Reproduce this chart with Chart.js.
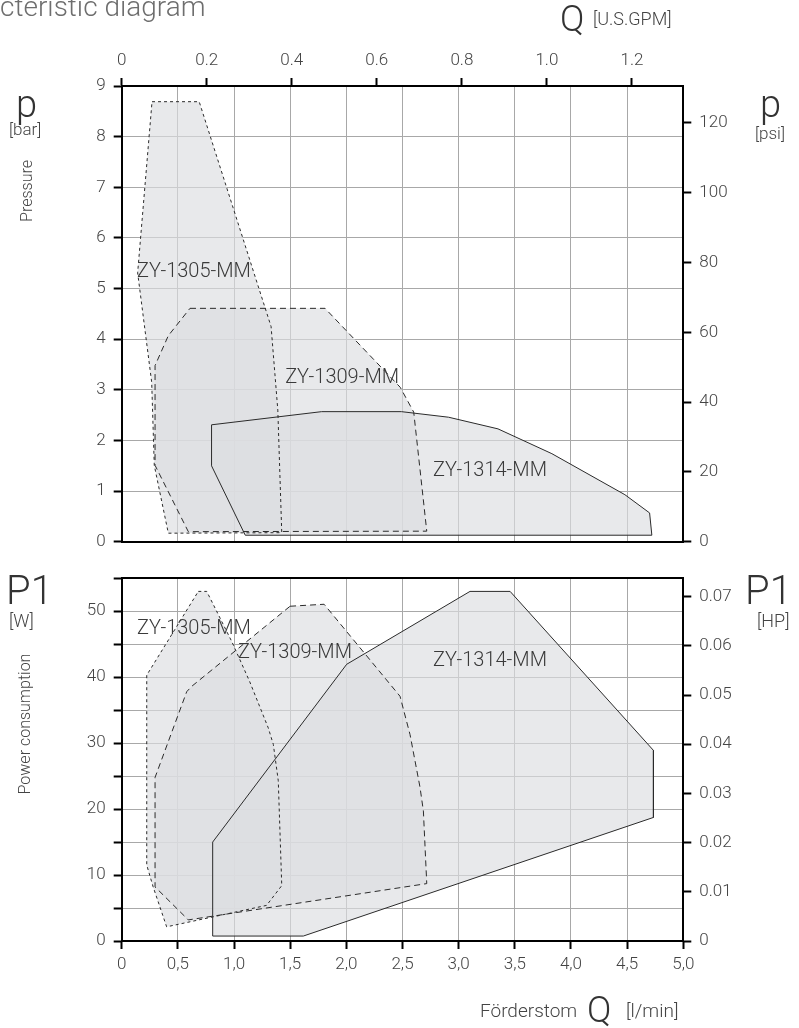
<!DOCTYPE html>
<html>
<head>
<meta charset="utf-8">
<script src="https://cdn.jsdelivr.net/npm/chart.js@4.4.1/dist/chart.umd.min.js"></script>
<style>
  html, body { margin: 0; padding: 0; background: #fff; }
  body { width: 799px; height: 1028px; position: relative; overflow: hidden;
         font-family: Roboto, "Open Sans", sans-serif; font-weight: 300; color: #444; }
  canvas { position: absolute; left: 0; }
  #pressure { top: 0; }
  #power { top: 560px; }
  .lbl { position: absolute; white-space: nowrap; line-height: 0; }
  .rot { position: absolute; white-space: nowrap; line-height: 1; transform: translate(-50%, -50%) rotate(-90deg); }
</style>
</head>
<body>
<canvas id="pressure" width="799" height="560"></canvas>
<canvas id="power" width="799" height="468"></canvas>
<script>
// flow Q in l/min, pressure p in bar, power P1 in W
const models = ['ZY-1305-MM', 'ZY-1309-MM', 'ZY-1314-MM'];

const q1305p = [0.27, 0.69, 1.33, 1.39, 1.425, 0.415, 0.29, 0.267, 0.142, 0.27];
const p1305 = [8.69, 8.69, 4.25, 2.6, 0.18, 0.17, 1.51, 3.15, 5.31, 8.69];
const q1309p = [0.608, 1.81, 2.48, 2.6, 2.716, 0.593, 0.297, 0.297, 0.415, 0.608];
const p1309 = [4.61, 4.61, 3.05, 2.56, 0.21, 0.2, 1.51, 3.48, 4.07, 4.61];
const q1314p = [0.80, 1.78, 2.49, 2.91, 3.35, 3.83, 4.48, 4.70, 4.72, 1.10, 0.80, 0.80];
const p1314 = [2.31, 2.57, 2.57, 2.46, 2.23, 1.74, 0.93, 0.57, 0.13, 0.13, 1.50, 2.31];

const q1305w = [0.682, 0.757, 0.98, 1.14, 1.305, 1.35, 1.394, 1.425, 1.29, 0.40, 0.28, 0.223, 0.223, 0.682];
const w1305 = [53.0, 53.0, 45.4, 39.3, 32.3, 29.8, 24.3, 8.4, 5.4, 2.15, 8.2, 11.5, 40.3, 53.0];
const q1309w = [1.499, 1.802, 2.478, 2.567, 2.656, 2.686, 2.716, 0.593, 0.297, 0.297, 0.579, 0.623, 1.499];
const w1309 = [50.75, 51.05, 37.1, 31.3, 23.3, 19.7, 8.7, 3.2, 8.2, 24.8, 37.8, 38.6, 50.75];
const q1314w = [0.81, 0.81, 2.003, 3.101, 3.458, 4.734, 4.734, 1.617, 0.81];
const w1314 = [0.75, 15.0, 41.95, 53.0, 53.0, 28.9, 18.73, 0.75, 0.75];

// where the model names sit (left edge, vertical middle)
const labelQp = [0.136, 1.455, 2.772];
const labelP = [5.32, 3.23, 1.40];
const labelQw = [0.136, 1.036, 2.772];
const labelW = [47.3, 43.6, 42.4];

const GPM = 3.78541; // l/min per U.S. gallon/min
const PSI = 14.5038; // psi per bar
const HP = 745.7;    // W per hp

const dashes = [[3, 3], [6, 4], []];
const fillColor = 'rgba(220,221,225,0.65)';
const gridColor = '#a8a8a8';
const tickFont = { family: 'Roboto', size: 17, weight: 300 };
const tickColor = '#444';

function pts(q, v) {
  return q.map((x, i) => ({ x: x, y: v[i] }));
}

function datasets(series) {
  return series.map((s, i) => ({
    label: models[i],
    data: pts(s[0], s[1]),
    showLine: true,
    fill: 'shape',
    backgroundColor: fillColor,
    borderColor: '#2a2a2a',
    borderWidth: 1,
    borderDash: dashes[i],
    pointRadius: 0,
    pointHoverRadius: 0,
    tension: 0
  }));
}

const modelLabels = {
  id: 'modelLabels',
  afterDatasetsDraw(chart, args, opts) {
    const { ctx, scales } = chart;
    ctx.save();
    ctx.font = '300 20px Roboto';
    ctx.fillStyle = '#3a3a3a';
    ctx.textBaseline = 'middle';
    ctx.textAlign = 'left';
    models.forEach((m, i) => {
      ctx.fillText(m, scales.x.getPixelForValue(opts.q[i]), scales.y.getPixelForValue(opts.v[i]));
    });
    ctx.restore();
  }
};

const axisBorder = { color: '#000', width: 2 };

function sideAxis(position, max, step, fmt, width) {
  return {
    type: 'linear', position: position, min: 0, max: max,
    ticks: { stepSize: step, includeBounds: false, autoSkip: false, callback: fmt,
             font: tickFont, color: tickColor, padding: 8 },
    grid: { drawOnChartArea: false, tickLength: 8, tickColor: '#000', tickWidth: 2 },
    border: axisBorder,
    afterFit: s => { s.width = width; }
  };
}

const pluginOpts = {
  legend: { display: false },
  tooltip: { enabled: false },
  filler: { drawTime: 'beforeDatasetsDraw' }
};

new Chart(document.getElementById('pressure'), {
  type: 'scatter',
  data: { datasets: datasets([[q1305p, p1305], [q1309p, p1309], [q1314p, p1314]]) },
  plugins: [modelLabels],
  options: {
    responsive: false,
    animation: false,
    events: [],
    layout: { padding: { left: 71.7, right: 55.7, top: 46, bottom: 16.7 } },
    plugins: Object.assign({ modelLabels: { q: labelQp, v: labelP } }, pluginOpts),
    scales: {
      x: {
        type: 'linear', position: 'bottom', min: 0, max: 5,
        ticks: { stepSize: 0.5, display: false },
        grid: { color: gridColor, drawTicks: false },
        border: axisBorder,
        afterFit: s => { s.height = 0; }
      },
      xTop: {
        type: 'linear', position: 'top', min: 0, max: 5 / GPM,
        ticks: { stepSize: 0.2, includeBounds: false, autoSkip: false, maxRotation: 0,
                 callback: v => v === 0 ? '0' : v.toFixed(1), font: tickFont, color: tickColor, padding: 7 },
        grid: { drawOnChartArea: false, tickLength: 8, tickColor: '#000', tickWidth: 2 },
        border: axisBorder,
        afterFit: s => { s.height = 40; }
      },
      y: {
        type: 'linear', position: 'left', min: 0, max: 9,
        ticks: { stepSize: 1, autoSkip: false, font: tickFont, color: tickColor, padding: 8 },
        grid: { color: gridColor, tickLength: 8, tickColor: '#000', tickWidth: 2 },
        border: axisBorder,
        afterFit: s => { s.width = 50; }
      },
      yR: sideAxis('right', 9 * PSI, 20, v => String(Math.round(v)), 60)
    }
  }
});

new Chart(document.getElementById('power'), {
  type: 'scatter',
  data: { datasets: datasets([[q1305w, w1305], [q1309w, w1309], [q1314w, w1314]]) },
  plugins: [modelLabels],
  options: {
    responsive: false,
    animation: false,
    events: [],
    layout: { padding: { left: 71.7, right: 55.7, top: 16, bottom: 47 } },
    plugins: Object.assign({ modelLabels: { q: labelQw, v: labelW } }, pluginOpts),
    scales: {
      x: {
        type: 'linear', position: 'bottom', min: 0, max: 5,
        ticks: { stepSize: 0.5, autoSkip: false, maxRotation: 0, font: tickFont, color: tickColor, padding: 6,
                 callback: v => v === 0 ? '0' : v.toFixed(1).replace('.', ',') },
        grid: { color: gridColor, tickLength: 8, tickColor: '#000', tickWidth: 2 },
        border: axisBorder,
        afterFit: s => { s.height = 40; }
      },
      xTop: {
        type: 'linear', position: 'top', min: 0, max: 5,
        ticks: { display: false },
        grid: { drawOnChartArea: false, drawTicks: false },
        border: axisBorder,
        afterFit: s => { s.height = 0; }
      },
      y: {
        type: 'linear', position: 'left', min: 0, max: 55,
        ticks: { stepSize: 5, autoSkip: false, font: tickFont, color: tickColor, padding: 8,
                 callback: v => v % 10 === 0 ? String(v) : '' },
        grid: { color: gridColor, tickLength: 8, tickColor: '#000', tickWidth: 2 },
        border: axisBorder,
        afterFit: s => { s.width = 50; }
      },
      yR: sideAxis('right', 55 / HP, 0.01, v => v === 0 ? '0' : v.toFixed(2), 60)
    }
  }
});

// captions around the plots: text, left x, baseline y, font size, colour
const captions = [
  ['cteristic diagram', 0, 17, 28, '#6e6e6e'],
  ['Q', 560, 31, 36, '#333'],
  ['[U.S.GPM]', 593, 25, 18, '#444'],
  ['p', 16, 117, 38, '#333'],
  ['[bar]', 9, 135, 17, '#444'],
  ['p', 760, 117, 38, '#333'],
  ['[psi]', 755, 139, 17, '#444'],
  ['P1', 6, 605, 40, '#333'],
  ['[W]', 9, 627, 18, '#444'],
  ['P1', 745, 605, 40, '#333'],
  ['[HP]', 757, 627, 18, '#444'],
  ['Förderstom', 480, 1017, 19, '#444'],
  ['Q', 587, 1022, 36, '#333'],
  ['[l/min]', 626, 1017, 19, '#444']
];
captions.forEach(([t, x, y, s, c]) => {
  const el = document.createElement('div');
  el.className = 'lbl';
  el.textContent = t;
  el.style.left = x + 'px';
  el.style.top = (y - 0.342 * s) + 'px';
  el.style.fontSize = s + 'px';
  el.style.color = c;
  document.body.appendChild(el);
});

const sideTitles = [['Pressure', 27, 191], ['Power consumption', 25, 724]];
sideTitles.forEach(([t, x, y]) => {
  const el = document.createElement('div');
  el.className = 'rot';
  el.textContent = t;
  el.style.left = x + 'px';
  el.style.top = y + 'px';
  el.style.fontSize = '16px';
  document.body.appendChild(el);
});
</script>
</body>
</html>
